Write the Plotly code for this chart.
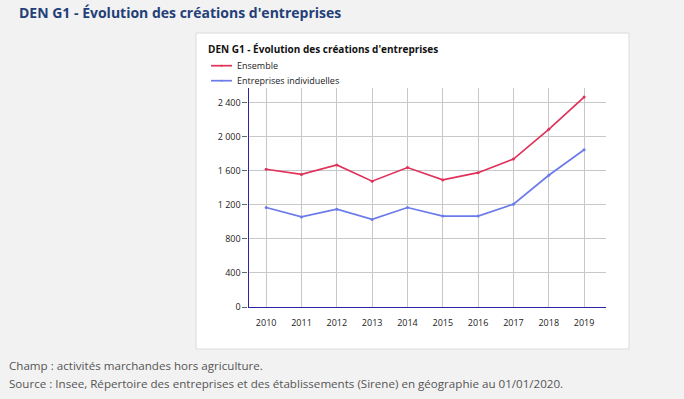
import plotly.graph_objects as go

years = ["2010", "2011", "2012", "2013", "2014", "2015", "2016", "2017", "2018", "2019"]
ensemble = [1620, 1560, 1670, 1480, 1640, 1495, 1580, 1740, 2090, 2470]
individuelles = [1170, 1060, 1150, 1030, 1170, 1070, 1070, 1210, 1550, 1850]
series_names = ["Ensemble", "Entreprises individuelles"]
y_ticks = [0, 400, 800, 1200, 1600, 2000, 2400]
y_tick_labels = ["0", "400", "800", "1 200", "1 600", "2 000", "2 400"]

page_title = "DEN G1 - Évolution des créations d'entreprises"
chart_title = "DEN G1 - Évolution des créations d'entreprises"
note1 = "Champ : activités marchandes hors agriculture."
note2 = "Source : Insee, Répertoire des entreprises et des établissements (Sirene) en géographie au 01/01/2020."

RED = "#e0325a"
BLUE = "#6b7bea"
W, H = 684, 399
FONT = "Open Sans"

def px(x):
    return x / W

def py(y):
    return 1 - y / H

fig = go.Figure()
for name, vals, col in [(series_names[0], ensemble, RED), (series_names[1], individuelles, BLUE)]:
    fig.add_trace(go.Scatter(x=list(range(len(years))), y=vals, name=name,
                             mode="lines+markers", line=dict(color=col, width=1.7),
                             marker=dict(size=3, color=col), showlegend=False))

shapes = [dict(type="rect", xref="paper", yref="paper",
               x0=px(196), x1=px(629), y0=py(349), y1=py(33),
               fillcolor="white", line=dict(color="#dcdcdc", width=1), layer="below")]
annotations = [
    dict(text="<b>" + page_title + "</b>", xref="paper", yref="paper",
         x=px(17), y=py(13), xanchor="left", yanchor="middle", showarrow=False,
         font=dict(family=FONT, size=14, color="#243f78")),
    dict(text="<b>" + chart_title + "</b>", xref="paper", yref="paper",
         x=px(206), y=py(49), xanchor="left", yanchor="middle", showarrow=False,
         font=dict(family=FONT, size=10, color="#111")),
    dict(text=note1, xref="paper", yref="paper",
         x=px(7), y=py(365), xanchor="left", yanchor="middle", showarrow=False,
         font=dict(family=FONT, size=11.6, color="#555")),
    dict(text=note2, xref="paper", yref="paper",
         x=px(7), y=py(383), xanchor="left", yanchor="middle", showarrow=False,
         font=dict(family=FONT, size=11.6, color="#555")),
]
# legend drawn manually
for name, col, ly in [(series_names[0], RED, 65.7), (series_names[1], BLUE, 80.7)]:
    shapes.append(dict(type="line", xref="paper", yref="paper",
                       x0=px(211), x1=px(232), y0=py(ly), y1=py(ly),
                       line=dict(color=col, width=1.7)))
    shapes.append(dict(type="circle", xref="paper", yref="paper",
                       x0=px(220.5), x1=px(222.5), y0=py(ly + 1), y1=py(ly - 1),
                       fillcolor=col, line=dict(color=col, width=0)))
    annotations.append(dict(text=name, xref="paper", yref="paper",
                            x=px(235), y=py(ly), xanchor="left", yanchor="middle",
                            showarrow=False, font=dict(family=FONT, size=9, color="#222")))

fig.update_layout(
    width=W, height=H,
    autosize=False,
    margin=dict(l=0, r=0, t=0, b=0, pad=0, autoexpand=False),
    paper_bgcolor="#f2f2f2",
    plot_bgcolor="white",
    font=dict(family=FONT, size=9, color="#222"),
    showlegend=False,
    xaxis=dict(domain=[px(248.5), px(606)], range=[-0.5, 9.62], automargin=False,
               tickmode="array", tickvals=list(range(len(years))), ticktext=years,
               showgrid=True, gridcolor="#c8c8c8", gridwidth=1,
               showline=True, linecolor="#2e22a8", linewidth=1.2,
               zeroline=False, ticks="", ticklabelstandoff=7,
               tickfont=dict(size=9, color="#222"), fixedrange=True),
    yaxis=dict(domain=[1 - 307 / H, 1 - 88 / H], range=[0, 2576], automargin=False,
               tickmode="array", tickvals=y_ticks, ticktext=y_tick_labels,
               showgrid=True, gridcolor="#c8c8c8", gridwidth=1,
               showline=True, linecolor="#2e22a8", linewidth=1.2,
               zeroline=False, ticks="outside", ticklen=5, tickcolor="#666",
               tickfont=dict(size=9, color="#222"), fixedrange=True),
    shapes=shapes,
    annotations=annotations,
)

fig.write_html("out.html", config=dict(displayModeBar=False),
               post_script="document.body.style.margin='0';document.body.style.background='#f2f2f2';")
